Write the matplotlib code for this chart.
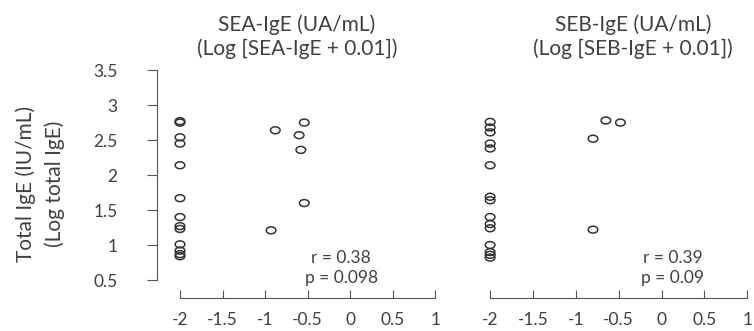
import matplotlib.pyplot as plt
from matplotlib.path import Path
from matplotlib.transforms import Affine2D

plt.rcParams['font.family'] = ['Lato', 'DejaVu Sans']
plt.rcParams['axes.unicode_minus'] = False

# log total IgE for each subject, by panel
sea_x = [-2, -2, -2, -2, -2, -2, -2, -2, -2, -2, -2, -2, -2,
         -0.88, -0.60, -0.54, -0.58, -0.54, -0.93]
sea_y = [2.77, 2.75, 2.54, 2.45, 2.14, 1.67, 1.40, 1.27, 1.23, 1.01, 0.92, 0.87, 0.84,
         2.64, 2.57, 2.75, 2.36, 1.60, 1.21]

seb_x = [-2, -2, -2, -2, -2, -2, -2, -2, -2, -2, -2, -2, -2, -2, -2,
         -0.65, -0.48, -0.80, -0.80]
seb_y = [2.76, 2.68, 2.61, 2.45, 2.38, 2.14, 1.69, 1.64, 1.40, 1.30, 1.24, 1.00, 0.90, 0.86, 0.82,
         2.78, 2.75, 2.52, 1.22]

titles = ['SEA-IgE (UA/mL)\n(Log [SEA-IgE + 0.01])',
          'SEB-IgE (UA/mL)\n(Log [SEB-IgE + 0.01])']
stats = ['r = 0.38\np = 0.098', 'r = 0.39\np = 0.09']
x_ticks = [-2, -1.5, -1, -0.5, 0, 0.5, 1]
x_labels = ['-2', '-1.5', '-1', '-0.5', '0', '0.5', '1']
y_ticks = [0.5, 1, 1.5, 2, 2.5, 3, 3.5]
y_labels = ['0.5', '1', '1.5', '2', '2.5', '3', '3.5']

W, H = 754, 331
txt = '#404040'
axc = '#555555'
fig = plt.figure(figsize=(W / 100, H / 100), dpi=100)

# slightly flattened open circle, like the original export
ellipse = Path.unit_circle().transformed(Affine2D().scale(1, 0.72))


def px_axes(x0, x1, y_top, y_bot):
    return fig.add_axes([x0 / W, 1 - y_bot / H, (x1 - x0) / W, (y_bot - y_top) / H])


ax1 = px_axes(157, 440, 68, 298)
ax2 = px_axes(467, 752, 68, 298)

panels = [(ax1, sea_x, sea_y, titles[0], stats[0], 297, (-0.106, 0.67)),
          (ax2, seb_x, seb_y, titles[1], stats[1], 633, (0.128, 0.67))]

for ax, xs, ys, title, st, tx, spos in panels:
    ax.scatter(xs, ys, s=48, marker=ellipse, facecolors='none', edgecolors='#333333',
               linewidths=1.1)
    ax.set_xlim(-2.27, 1.055)
    ax.set_ylim(0.243, 3.53)
    for s in ['top', 'right']:
        ax.spines[s].set_visible(False)
    ax.spines['bottom'].set_bounds(-2, 1)
    ax.spines['bottom'].set_color(axc)
    ax.spines['left'].set_color(axc)
    ax.set_xticks(x_ticks)
    ax.set_xticklabels(x_labels)
    ax.tick_params(axis='x', direction='in', length=6, color=axc, labelcolor=txt,
                   labelsize=12.5, pad=10)
    ax.text(spos[0], spos[1], st, fontsize=12.5, color=txt, ha='center', va='center',
            linespacing=1.3)
    fig.text(tx / W, 1 - 37 / H, title, fontsize=15, color=txt, ha='center',
             va='center', linespacing=1.2)

ax1.spines['left'].set_bounds(0.5, 3.5)
ax1.set_yticks(y_ticks)
ax1.set_yticklabels(y_labels)
ax1.tick_params(axis='y', direction='out', length=7, color=axc, labelcolor=txt,
                labelsize=12.5, pad=21.5)

ax2.spines['left'].set_visible(False)
ax2.set_yticks([])

fig.text(40 / W, 1 - 184 / H, 'Total IgE (IU/mL)\n(Log total IgE)', rotation=90,
         fontsize=15, color=txt, ha='center', va='center', linespacing=1.5)

fig.savefig('out.png', dpi=100)
